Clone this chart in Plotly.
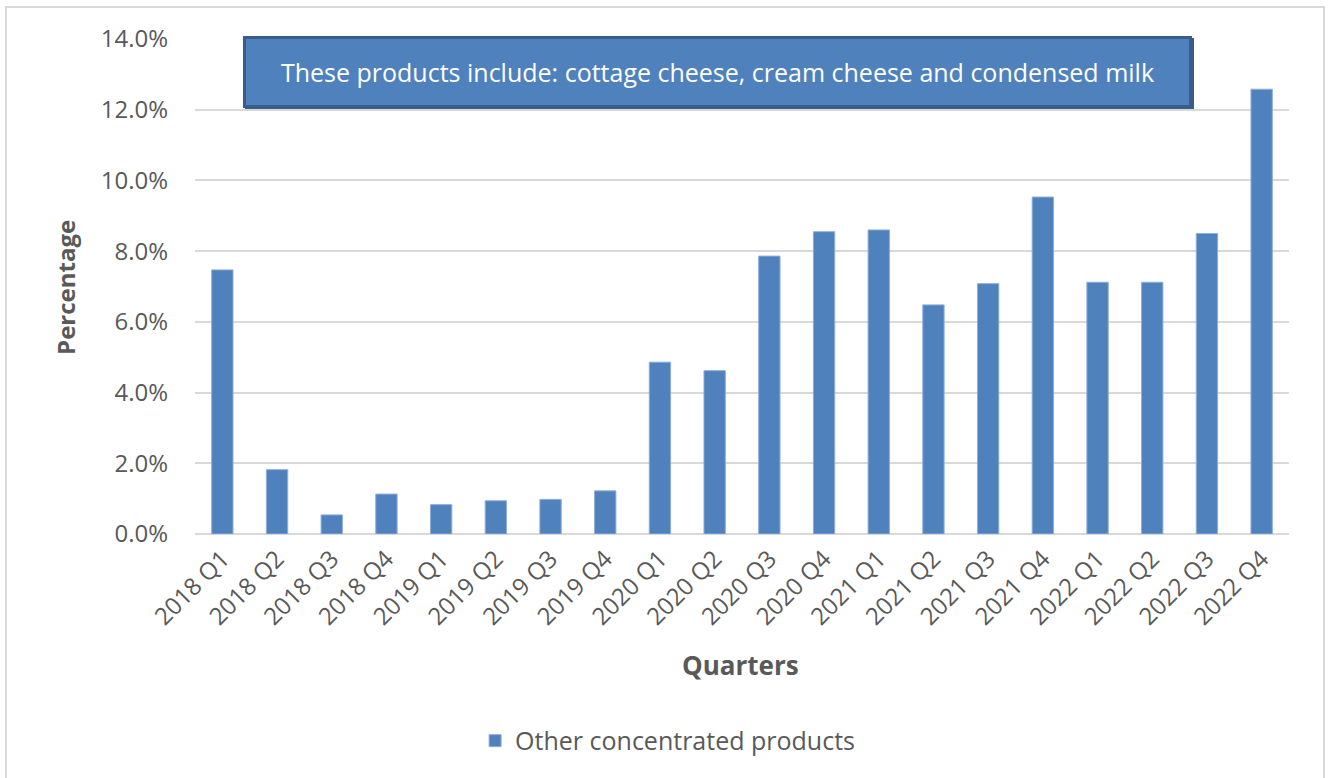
import plotly.graph_objects as go

# Quarterly share (%) of other concentrated dairy products
quarters = [
    "2018 Q1", "2018 Q2", "2018 Q3", "2018 Q4",
    "2019 Q1", "2019 Q2", "2019 Q3", "2019 Q4",
    "2020 Q1", "2020 Q2", "2020 Q3", "2020 Q4",
    "2021 Q1", "2021 Q2", "2021 Q3", "2021 Q4",
    "2022 Q1", "2022 Q2", "2022 Q3", "2022 Q4",
]
share_pct = [
    7.47, 1.82, 0.54, 1.13,
    0.83, 0.94, 0.98, 1.22,
    4.86, 4.62, 7.86, 8.55,
    8.60, 6.48, 7.08, 9.53,
    7.12, 7.12, 8.50, 12.58,
]
y_ticks = [0, 2, 4, 6, 8, 10, 12, 14]
y_tick_labels = [f"{v:.1f}%" for v in y_ticks]
series_name = "Other concentrated products"
note_text = "These products include: cottage cheese, cream cheese and condensed milk"

FONT = "Open Sans"
TEXT_GREY = "#595959"
GRID = "#D9D9D9"
BAR_BLUE = "#4F81BD"
BOX_EDGE = "#385D8A"

fig = go.Figure()
fig.add_trace(go.Bar(
    x=quarters,
    y=share_pct,
    name=series_name,
    marker=dict(color=BAR_BLUE, line=dict(color="#8EAEDA", width=1)),
))

fig.update_layout(
    width=1328,
    height=778,
    margin=dict(l=195, r=39, t=39, b=244),
    paper_bgcolor="white",
    plot_bgcolor="white",
    bargap=0.61,
    font=dict(family=FONT, color=TEXT_GREY, size=24),
    showlegend=True,
    legend=dict(
        orientation="h",
        x=0.432, xanchor="center",
        y=-0.418, yanchor="middle",
        font=dict(family=FONT, size=25, color=TEXT_GREY),
        itemwidth=30,
    ),
    xaxis=dict(
        type="category",
        tickangle=-45,
        tickfont=dict(family=FONT, size=24, color=TEXT_GREY),
        showgrid=False,
        showline=False,
        ticks="",
        ticklabelstandoff=5,
    ),
    yaxis=dict(
        range=[0, 14],
        tickvals=y_ticks,
        ticktext=y_tick_labels,
        tickfont=dict(family=FONT, size=24, color=TEXT_GREY),
        showgrid=True,
        gridcolor=GRID,
        gridwidth=2,
        zeroline=True,
        zerolinecolor=GRID,
        zerolinewidth=2,
        showline=False,
        ticks="",
        ticklabelstandoff=26,
    ),
    shapes=[
        # light frame around the whole chart
        dict(
            type="rect", xref="paper", yref="paper",
            x0=-0.1728, x1=1.0320, y0=-0.53, y1=1.0646,
            line=dict(color=GRID, width=2),
            fillcolor="rgba(0,0,0,0)",
            layer="below",
        ),
        # drop shadow under the note box
        dict(
            type="rect", xref="paper", yref="paper",
            x0=(245 - 195) / 1094, x1=(1194 - 195) / 1094,
            y0=(534 - 109) / 495, y1=(534 - 38) / 495,
            line=dict(width=0),
            fillcolor=BOX_EDGE,
            layer="above",
        ),
    ],
    annotations=[
        dict(
            text="<b>Percentage</b>",
            xref="paper", yref="paper",
            x=-0.118, y=0.499,
            xanchor="center", yanchor="middle",
            textangle=-90, showarrow=False,
            font=dict(family=FONT, size=24, color=TEXT_GREY),
        ),
        dict(
            text="<b>Quarters</b>",
            xref="paper", yref="paper",
            x=0.499, y=-0.265,
            xanchor="center", yanchor="middle",
            showarrow=False,
            font=dict(family=FONT, size=26, color=TEXT_GREY),
        ),
        dict(
            text=note_text,
            xref="paper", yref="paper",
            x=0.4776, y=0.9343,
            xanchor="center", yanchor="middle",
            showarrow=False,
            width=943, height=66,
            bgcolor=BAR_BLUE,
            bordercolor=BOX_EDGE,
            borderwidth=3,
            borderpad=0,
            font=dict(family=FONT, size=25, color="white"),
        ),
    ],
)

fig.write_html("out.html")
